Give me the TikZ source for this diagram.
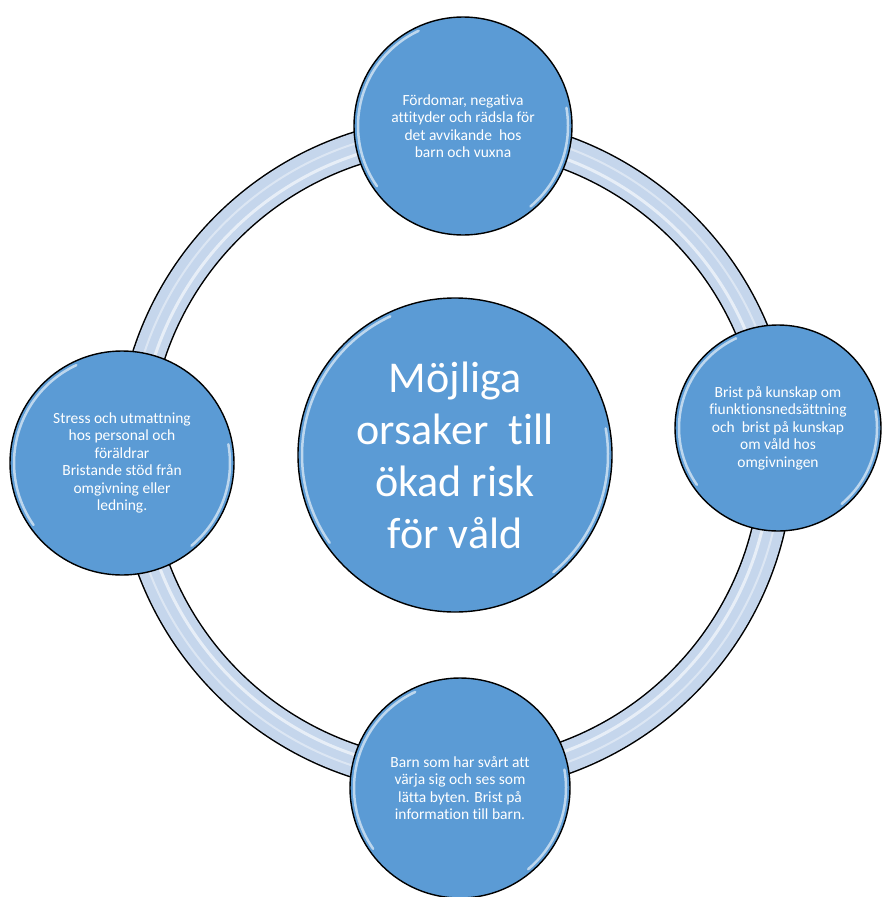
\documentclass[tikz,border=0pt]{standalone}
\usepackage{fontspec}
\setmainfont[Ligatures=NoCommon]{Carlito}
\definecolor{bubblablue}{HTML}{5B9BD5}
\definecolor{ringblue}{HTML}{C5D6EC}
\tikzset{
  bubbla/.style={circle, draw=black, line width=1.4pt, fill=bubblablue,
    text=white, align=center, inner sep=0pt},
  liten/.style={bubbla, font=\fontsize{15.5}{17.5}\selectfont},
  glans/.style={white, opacity=0.6, line width=2.5pt, line cap=round}
}
\begin{document}
\begin{tikzpicture}[x=1pt,y=-1pt]
        \useasboundingbox (0,0) rectangle (884,897);

        % Ringen
        \draw[line width=34pt] (455,455) circle (322pt);
        \draw[ringblue, line width=31pt] (455,455) circle (322pt);
        \draw[white, opacity=0.6, line width=3pt] (455,455) circle (316pt);
        \draw[white, opacity=0.4, line width=2pt] (455,455) circle (327pt);

        % Cirklar
        \node[bubbla, minimum size=314pt, font=\fontsize{44}{52}\selectfont]
          (orsak) at (455,455) {Möjliga\\orsaker\ \ till\\ökad risk\\för våld};
        \node[liten, minimum size=218pt] (fordomar) at (463,126)
          {Fördomar, negativa\\attityder och rädsla för\\det avvikande\ \ hos\\barn och vuxna};
        \node[liten, minimum size=206pt] (kunskap) at (778,428)
          {Brist på kunskap om\\fiunktionsnedsättning\\och\ \ brist på kunskap\\om våld hos\\omgivningen};
        \node[liten, minimum size=224pt] (stress) at (122,463)
          {Stress och utmattning\\hos personal och\\föräldrar\\Bristande stöd från\\omgivning eller\\ledning.};
        \node[liten, minimum size=220pt] (barn) at (460,788)
          {Barn som har svårt att\\värja sig och ses som\\lätta byten. Brist på\\information till barn.};

        % Glans
        \foreach \n/\r in {orsak/153, fordomar/105, kunskap/99, stress/108, barn/106} {
            \draw[glans] ([shift={(115:\r pt)}]\n.center) arc (115:215:\r pt);
            \draw[glans] ([shift={(-50:\r pt)}]\n.center) arc (-50:10:\r pt);
        }
\end{tikzpicture}
\end{document}
